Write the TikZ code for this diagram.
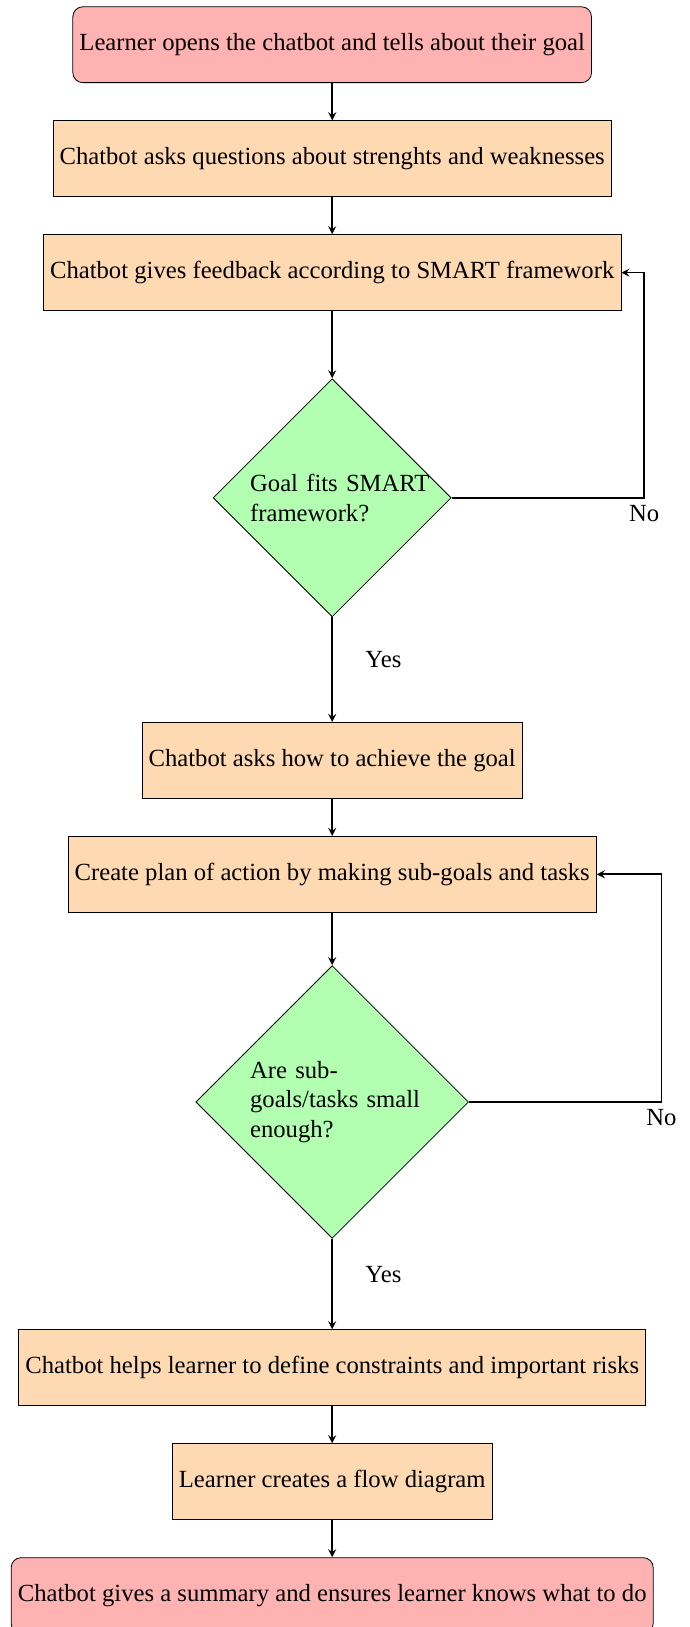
\documentclass[tikz,border=0pt]{standalone}
\usepackage{fontspec}
\setmainfont{Liberation Serif}
\usetikzlibrary{positioning, shapes.geometric}

\tikzset{
  startstop/.style={rectangle, rounded corners=5pt, minimum height=1.34cm, draw=black, fill=red!30},
  process/.style={rectangle, minimum height=1.34cm, draw=black, fill=orange!30},
  decision/.style={diamond, aspect=1, text width=2.9cm, align=left, draw=black, fill=green!30},
  arrow/.style={thick, ->, >=stealth}
}

\begin{document}
\begin{tikzpicture}[font=\fontsize{12.4}{15}\selectfont]
  \useasboundingbox (-5.87,0) rectangle (6.32,-28.75);
  \node[startstop] (start) at (0,-0.79) {Learner opens the chatbot and tells about their goal};
  \node[process, below=0.66cm of start] (pro1) {Chatbot asks questions about strenghts and weaknesses};
  \node[process, below=0.66cm of pro1] (pro2) {Chatbot gives feedback according to SMART framework};
  \node[decision, below=1.19cm of pro2] (dec1) {Goal~fits~SMART\\framework?};
  \node[process, below=1.85cm of dec1] (pro3) {Chatbot asks how to achieve the goal};
  \node[process, below=0.66cm of pro3] (pro4) {Create plan of action by making sub-goals and tasks};
  \node[decision, below=0.93cm of pro4] (dec2) {Are sub-\\goals/tasks~small\\enough?};
  \node[process, below=1.6cm of dec2] (pro5) {Chatbot helps learner to define constraints and important risks};
  \node[process, below=0.66cm of pro5] (pro6) {Learner creates a flow diagram};
  \node[startstop, below=0.66cm of pro6] (stop) {Chatbot gives a summary and ensures learner knows what to do};

  \draw[arrow] (start) -- (pro1);
  \draw[arrow] (pro1) -- (pro2);
  \draw[arrow] (pro2) -- (dec1);
  \draw[arrow] (dec1) -- node[pos=0.4, right=13pt] {Yes} (pro3);
  \draw[arrow] (dec1.east) -- ++(3.4,0) node[below] {No} |- (pro2.east);
  \draw[arrow] (pro3) -- (pro4);
  \draw[arrow] (pro4) -- (dec2);
  \draw[arrow] (dec2) -- node[pos=0.4, right=13pt] {Yes} (pro5);
  \draw[arrow] (dec2.east) -- ++(3.4,0) node[below] {No} |- (pro4.east);
  \draw[arrow] (pro5) -- (pro6);
  \draw[arrow] (pro6) -- (stop);
\end{tikzpicture}
\end{document}
